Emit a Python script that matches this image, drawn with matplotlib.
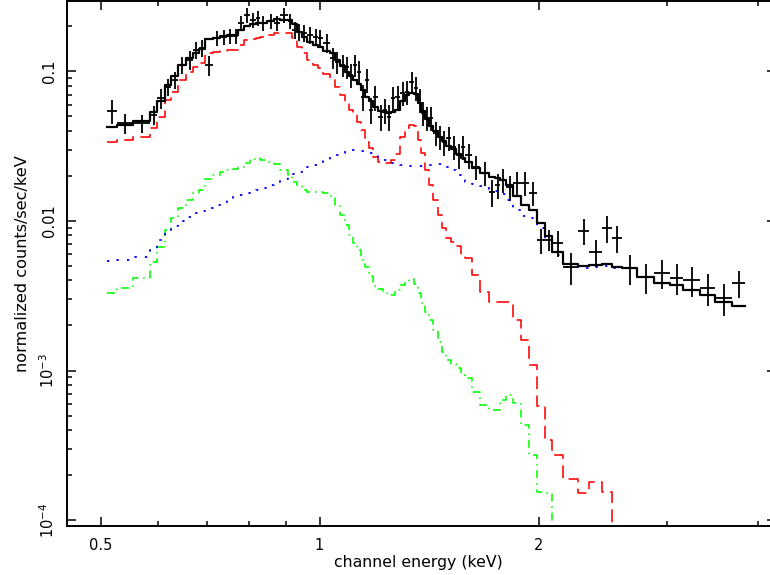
import matplotlib
matplotlib.use("Agg")
import matplotlib.pyplot as plt
import numpy as np
from matplotlib.ticker import FixedLocator, FixedFormatter, LogLocator, NullFormatter

# channel bin edges (keV)
bin_edges = [
    0.510, 0.527, 0.554, 0.585, 0.598, 0.613, 0.625, 0.639, 0.656, 0.670,
    0.683, 0.696, 0.714, 0.730, 0.746, 0.761, 0.773, 0.788, 0.803, 0.818,
    0.828, 0.847, 0.866, 0.882, 0.905, 0.917, 0.931, 0.946, 0.961, 0.980,
    0.995, 1.011, 1.034, 1.050, 1.067, 1.084, 1.098, 1.112, 1.126, 1.140,
    1.155, 1.170, 1.184, 1.203, 1.223, 1.238, 1.254, 1.270, 1.290, 1.311,
    1.328, 1.349, 1.366, 1.379, 1.397, 1.414, 1.432, 1.455, 1.474, 1.493,
    1.516, 1.541, 1.565, 1.585, 1.620, 1.662, 1.710, 1.743, 1.771, 1.805,
    1.845, 1.892, 1.941, 1.991, 2.042, 2.087, 2.162, 2.267, 2.347, 2.446,
    2.524, 2.606, 2.732, 2.884, 3.032, 3.160, 3.334, 3.497, 3.690, 3.845,
]

# observed rate per bin (counts/s/keV)
rate = [
    0.0544, 0.0452, 0.0452, 0.0512, 0.0665, 0.0787, 0.0877, 0.1105, 0.1194, 0.1392,
    0.1436, 0.1105, 0.1675, 0.1701, 0.1728, 0.1728, 0.2111, 0.2387, 0.2211, 0.2280,
    0.2111, 0.2177, 0.2111, 0.2387, 0.2177, 0.1895, 0.1837, 0.1809, 0.1754, 0.1701,
    0.1675, 0.1551, 0.1231, 0.1157, 0.1105, 0.1072, 0.0947, 0.1105, 0.0992, 0.0675,
    0.0877, 0.0553, 0.0675, 0.0496, 0.0553, 0.0496, 0.0665, 0.0675, 0.0718, 0.0729,
    0.0851, 0.0776, 0.0645, 0.0528, 0.0489, 0.0489, 0.0388, 0.0365, 0.0338, 0.0359,
    0.0313, 0.0276, 0.0313, 0.0276, 0.0230, 0.0209, 0.0156, 0.0174, 0.0188, 0.0169,
    0.0180, 0.0180, 0.0154, 0.00746, 0.00746, 0.00713, 0.00492, 0.00857, 0.00620, 0.00898,
    0.00770, 0.00485, 0.00422, 0.00449, 0.00416, 0.00403, 0.00356, 0.00305, 0.00385,
]

# fractional 1-sigma errors on the rate
rate_err = [
    0.18, 0.15, 0.14, 0.14, 0.15, 0.13, 0.13, 0.13, 0.14, 0.13,
    0.13, 0.15, 0.12, 0.12, 0.12, 0.12, 0.11, 0.11, 0.12, 0.12,
    0.12, 0.12, 0.12, 0.11, 0.12, 0.13, 0.13, 0.13, 0.13, 0.13,
    0.13, 0.14, 0.16, 0.17, 0.17, 0.17, 0.18, 0.17, 0.18, 0.20,
    0.18, 0.20, 0.19, 0.20, 0.19, 0.20, 0.18, 0.18, 0.18, 0.18,
    0.17, 0.18, 0.18, 0.18, 0.18, 0.18, 0.18, 0.18, 0.19, 0.18,
    0.18, 0.19, 0.18, 0.19, 0.18, 0.18, 0.20, 0.19, 0.18, 0.19,
    0.18, 0.18, 0.18, 0.19, 0.16, 0.20, 0.24, 0.20, 0.21, 0.21,
    0.21, 0.23, 0.23, 0.22, 0.23, 0.23, 0.24, 0.24, 0.21,
]

# hot plasma component
model_hot = [
    0.0338, 0.0348, 0.0365, 0.0419, 0.0496, 0.0645, 0.0729, 0.0877, 0.0992, 0.1072,
    0.1140, 0.1329, 0.1350, 0.1371, 0.1392, 0.1392, 0.1504, 0.1624, 0.1650, 0.1675,
    0.1701, 0.1754, 0.1809, 0.1809, 0.1809, 0.1675, 0.1458, 0.1329, 0.1194, 0.1105,
    0.1055, 0.0962, 0.0905, 0.0787, 0.0697, 0.0606, 0.0553, 0.0512, 0.0459, 0.0406,
    0.0338, 0.0308, 0.0268, 0.0248, 0.0244, 0.0244, 0.0256, 0.0281, 0.0365, 0.0419,
    0.0439, 0.0432, 0.0348, 0.0285, 0.0219, 0.0174, 0.0138, 0.0110, 0.00898, 0.00770,
    0.00724, 0.00681, 0.00592, 0.00565, 0.00435, 0.00335, 0.00287, 0.00287, 0.00287, 0.00287,
    0.00218, 0.00160, 0.00109, 0.000579, 0.000343, 0.000272, 0.000188, 0.000152, 0.000180, 0.000154,
    4.0e-5, 2.6e-5, 1.8e-5, 1.2e-5, 8e-6, 6e-6, 4e-6, 3e-6, 2e-6,
]

# cool plasma component
model_cool = [
    0.00330, 0.00356, 0.00416, 0.00532, 0.00670, 0.00871, 0.01047, 0.01222, 0.0138, 0.0154,
    0.0161, 0.0191, 0.0203, 0.0213, 0.0219, 0.0223, 0.0230, 0.0244, 0.0260, 0.0264,
    0.0256, 0.0248, 0.0241, 0.0219, 0.0203, 0.0182, 0.0171, 0.0161, 0.0156, 0.0156,
    0.0156, 0.0154, 0.0147, 0.0128, 0.0110, 0.00940, 0.00806, 0.00713, 0.00640, 0.00548,
    0.00492, 0.00429, 0.00367, 0.00351, 0.00335, 0.00320, 0.00320, 0.00345, 0.00373, 0.00391,
    0.00409, 0.00379, 0.00330, 0.00283, 0.00246, 0.00218, 0.00187, 0.00155, 0.00133, 0.00118,
    0.00111, 0.00104, 0.000933, 0.000891, 0.000718, 0.000588, 0.000544, 0.000544, 0.000635, 0.000686,
    0.000606, 0.000432, 0.000272, 0.000154, 0.000152, 3e-5, 2e-5, 1.5e-5, 1e-5, 8e-6,
    6e-6, 5e-6, 4e-6, 3e-6, 2e-6, 2e-6, 1e-6, 1e-6, 1e-6,
]

# power-law continuum component
model_cont = [
    0.00540, 0.00548, 0.00574, 0.00640, 0.00746, 0.00844, 0.00926, 0.0100, 0.01064, 0.01131,
    0.01167, 0.01222, 0.0128, 0.0134, 0.01404, 0.01447, 0.01492, 0.0154, 0.01587, 0.0161,
    0.01662, 0.0174, 0.0182, 0.0191, 0.0200, 0.0206, 0.0213, 0.0219, 0.0230, 0.0237,
    0.0244, 0.0256, 0.0268, 0.0276, 0.0285, 0.0294, 0.0298, 0.0298, 0.0298, 0.0294,
    0.0289, 0.0285, 0.0276, 0.0264, 0.0256, 0.0248, 0.0244, 0.0241, 0.0237, 0.0237,
    0.0233, 0.0233, 0.0233, 0.0233, 0.0237, 0.0237, 0.0241, 0.0241, 0.0237, 0.0230,
    0.0219, 0.0203, 0.0194, 0.0182, 0.0177, 0.0171, 0.01637, 0.01587, 0.01516, 0.0138,
    0.01185, 0.0108, 0.01047, 0.00898, 0.00746, 0.00592, 0.00492, 0.00485, 0.00492, 0.0050,
    0.00485, 0.00485, 0.00422, 0.00385, 0.00373, 0.00345, 0.00320, 0.00287, 0.00270,
]


def stepped(ax, edges, values, **kw):
    # histogram-style model line across the channel bins
    ys = np.append(values, values[-1])
    ax.step(edges, ys, where="post", **kw)


def main():
    edges = np.array(bin_edges)
    lo, hi = edges[:-1], edges[1:]
    centre = 0.5 * (lo + hi)
    y = np.array(rate)
    yerr = y * np.array(rate_err)
    hot = np.array(model_hot)
    cool = np.array(model_cool)
    cont = np.array(model_cont)
    total = hot + cool + cont

    fig = plt.figure(figsize=(7.7, 5.75), dpi=100)
    ax = fig.add_axes([67 / 770, 1 - 526 / 575, (776 - 67) / 770, 525 / 575])

    ax.errorbar(centre, y, xerr=[centre - lo, hi - centre], yerr=yerr,
                fmt="none", ecolor="black", elinewidth=1.3, capsize=0, zorder=3)
    stepped(ax, edges, total, color="black", lw=1.6, zorder=4)
    stepped(ax, edges, hot, color="#ff0000", lw=1.15, linestyle=(0, (8, 4)), zorder=2)
    stepped(ax, edges, cool, color="#00ff00", lw=1.15, linestyle=(0, (5, 3, 1, 3)), zorder=2)
    stepped(ax, edges, cont, color="#0000ff", lw=1.3, linestyle=(0, (1.3, 4.5)), zorder=2)

    ax.set_xscale("log")
    ax.set_yscale("log")
    ax.set_xlim(0.4497, 4.24)
    ax.set_ylim(9.12e-5, 0.296)

    ax.xaxis.set_major_locator(FixedLocator([0.5, 1, 2]))
    ax.xaxis.set_major_formatter(FixedFormatter(["0.5", "1", "2"]))
    ax.xaxis.set_minor_locator(FixedLocator([0.6, 0.7, 0.8, 0.9, 3, 4]))
    ax.xaxis.set_minor_formatter(NullFormatter())
    ax.yaxis.set_major_locator(FixedLocator([1e-4, 1e-3, 1e-2, 0.1]))
    ax.yaxis.set_major_formatter(FixedFormatter(["$10^{-4}$", "$10^{-3}$", "0.01", "0.1"]))
    ax.yaxis.set_minor_locator(LogLocator(base=10, subs=np.arange(2, 10), numticks=20))
    ax.yaxis.set_minor_formatter(NullFormatter())

    ax.tick_params(which="both", direction="in", top=True, right=True, width=1.1,
                   labelsize=10.5, color="black")
    ax.tick_params(which="major", length=6.5)
    ax.tick_params(which="minor", length=3.6)
    ax.tick_params(axis="x", pad=9)
    ax.tick_params(axis="y", pad=7, labelrotation=90)
    for lab in ax.get_yticklabels():
        lab.set_verticalalignment("center")

    for sp in ax.spines.values():
        sp.set_linewidth(1.4)

    ax.set_xlabel("channel energy (keV)", fontsize=11.3)
    ax.set_ylabel("normalized counts/sec/keV", fontsize=11.6)
    ax.xaxis.set_label_coords(0.5 * (770 - 67) / (776 - 67), -0.056)
    ax.yaxis.set_label_coords(-0.052, 0.5)

    fig.savefig("out.png", dpi=100)


if __name__ == "__main__":
    main()
